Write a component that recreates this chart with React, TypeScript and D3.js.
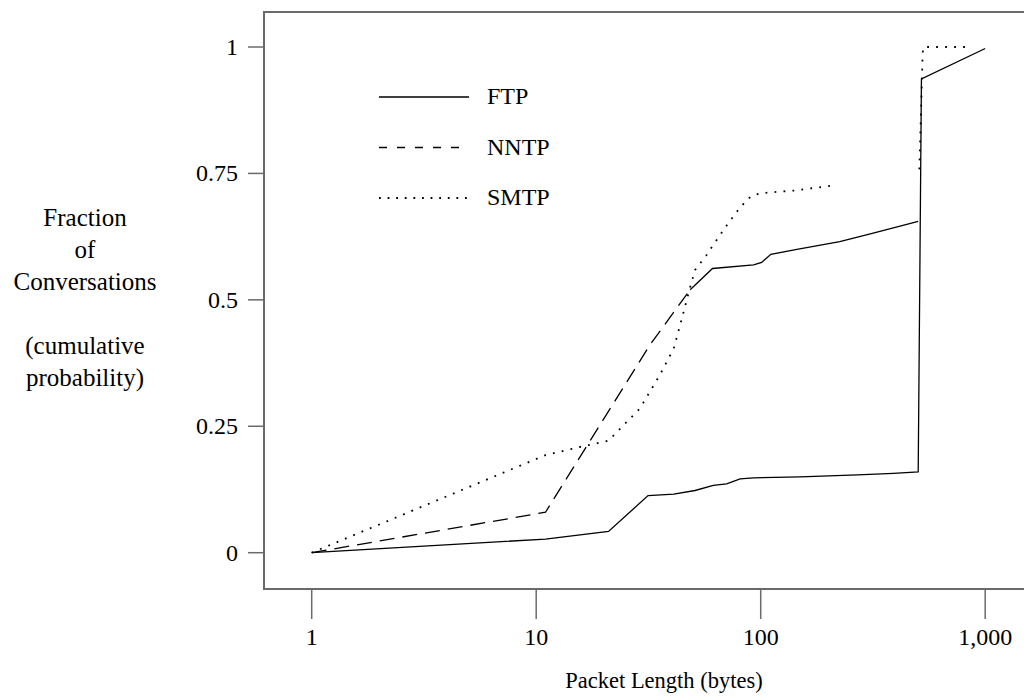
import React, { useRef, useEffect } from 'react';
import { select, scaleLog, scaleLinear, line, format } from 'd3';

// packet length (bytes) vs cumulative fraction of conversations
const ftpLength = [1, 11, 21, 31.5, 41, 51, 61.5, 70.5, 81, 93, 150, 270, 390, 503, 520, 1000];
const ftpFraction = [0, 0.027, 0.042, 0.113, 0.116, 0.123, 0.133, 0.136, 0.146, 0.148, 0.150, 0.154, 0.157, 0.160, 0.937, 0.997];

const nntpLength = [1, 11, 32, 48.5];
const nntpFraction = [0, 0.08, 0.41, 0.52];
// upper part of the NNTP curve is drawn solid in the original
const nntpTailLength = [48.5, 61, 93, 101, 111, 145, 225, 317, 503];
const nntpTailFraction = [0.52, 0.562, 0.569, 0.574, 0.59, 0.6, 0.615, 0.632, 0.655];

const smtpLength = [1, 11, 16, 21, 29, 35.5, 41, 44.5, 48, 51, 57.5, 60.5, 71, 81, 90.5, 100.5, 140, 210, null, 509, 527, 532, 855];
const smtpFraction = [0, 0.193, 0.21, 0.2215, 0.2855, 0.351, 0.404, 0.462, 0.518, 0.559, 0.589, 0.604, 0.649, 0.683, 0.705, 0.711, 0.716, 0.726, null, 0.758, 0.99, 1, 1];

const xTicks = [1, 10, 100, 1000];
const yTicks = [0, 0.25, 0.5, 0.75, 1];
const yTickLabels = ['0', '0.25', '0.5', '0.75', '1'];

const legendNames = ['FTP', 'NNTP', 'SMTP'];
const yTitle = ['Fraction', 'of', 'Conversations', '', '(cumulative', 'probability)'];

const App = () => {
  const svgRef = useRef<SVGSVGElement>(null);
  const width = 1024;
  const height = 696;
  const box = { left: 264, top: 12, bottom: 589 };
  const font = '"Liberation Serif", "Times New Roman", serif';

  useEffect(() => {
    const svg = select(svgRef.current);
    svg.selectAll('*').remove();

    const xScale = scaleLog().domain([1, 1000]).range([311.7, 985.2]);
    const yScale = scaleLinear().domain([0, 1]).range([552.7, 47]);

    const axisColor = '#6a6a6a';

    // frame (no right edge visible)
    svg.append('path')
      .attr('d', `M${width + 5},${box.top}H${box.left}V${box.bottom}H${width + 5}`)
      .attr('fill', 'none')
      .attr('stroke', axisColor)
      .attr('stroke-width', 2);

    // y ticks
    const yg = svg.append('g');
    yTicks.forEach((t, i) => {
      yg.append('line')
        .attr('x1', box.left - 16).attr('x2', box.left)
        .attr('y1', yScale(t)).attr('y2', yScale(t))
        .attr('stroke', axisColor).attr('stroke-width', 1.5);
      yg.append('text')
        .attr('x', box.left - 26)
        .attr('y', yScale(t) + 8)
        .attr('text-anchor', 'end')
        .attr('font-family', font)
        .attr('font-size', 24)
        .text(yTickLabels[i]);
    });

    // x ticks
    const xg = svg.append('g');
    xTicks.forEach(t => {
      xg.append('line')
        .attr('x1', xScale(t)).attr('x2', xScale(t))
        .attr('y1', box.bottom).attr('y2', box.bottom + 30)
        .attr('stroke', axisColor).attr('stroke-width', 1.5);
      xg.append('text')
        .attr('x', xScale(t))
        .attr('y', 645)
        .attr('text-anchor', 'middle')
        .attr('font-family', font)
        .attr('font-size', 24)
        .text(format(',')(t));
    });

    svg.append('text')
      .attr('x', 664)
      .attr('y', 688)
      .attr('text-anchor', 'middle')
      .attr('font-family', font)
      .attr('font-size', 22.5)
      .text('Packet Length (bytes)');

    yTitle.forEach((s, i) => {
      if (!s) return;
      svg.append('text')
        .attr('x', 85)
        .attr('y', 226 + i * 32)
        .attr('text-anchor', 'middle')
        .attr('font-family', font)
        .attr('font-size', 25)
        .text(s);
    });

    const lineGen = line<any>()
      .defined(d => d[0] != null && d[1] != null)
      .x(d => xScale(d[0]))
      .y(d => yScale(d[1]));

    const zip = (a: any[], b: any[]) => a.map((v, i) => [v, b[i]]);

    const series = [
      { pts: zip(ftpLength, ftpFraction), dash: null, w: 1.3 },
      { pts: zip(nntpLength, nntpFraction), dash: '15 8', w: 1.3 },
      { pts: zip(nntpTailLength, nntpTailFraction), dash: null, w: 1.3 },
      { pts: zip(smtpLength, smtpFraction), dash: '1.8 7.2', w: 1.8 },
    ];

    svg.append('g').attr('class', 'graph')
      .selectAll('path')
      .data(series)
      .join('path')
      .attr('d', d => lineGen(d.pts))
      .attr('fill', 'none')
      .attr('stroke', '#000')
      .attr('stroke-width', d => d.w)
      .attr('stroke-dasharray', d => d.dash);

    // legend
    const legendDash = [null, '8 10', '1.8 6.8'];
    const lg = svg.append('g');
    legendNames.forEach((name, i) => {
      const y = 97 + i * 50.5;
      lg.append('line')
        .attr('x1', 379).attr('x2', 469)
        .attr('y1', y).attr('y2', y)
        .attr('stroke', '#000')
        .attr('stroke-width', i === 2 ? 1.8 : 1.3)
        .attr('stroke-dasharray', legendDash[i]);
      lg.append('text')
        .attr('x', 487)
        .attr('y', y + 7)
        .attr('font-family', font)
        .attr('font-size', 24)
        .text(name);
    });
  }, []);

  return (
    <div>
      <svg ref={svgRef} width={width} height={height}
        style={{ position: 'absolute', left: 0, top: 0, background: '#fff' }} />
    </div>
  );
};

export default App;
